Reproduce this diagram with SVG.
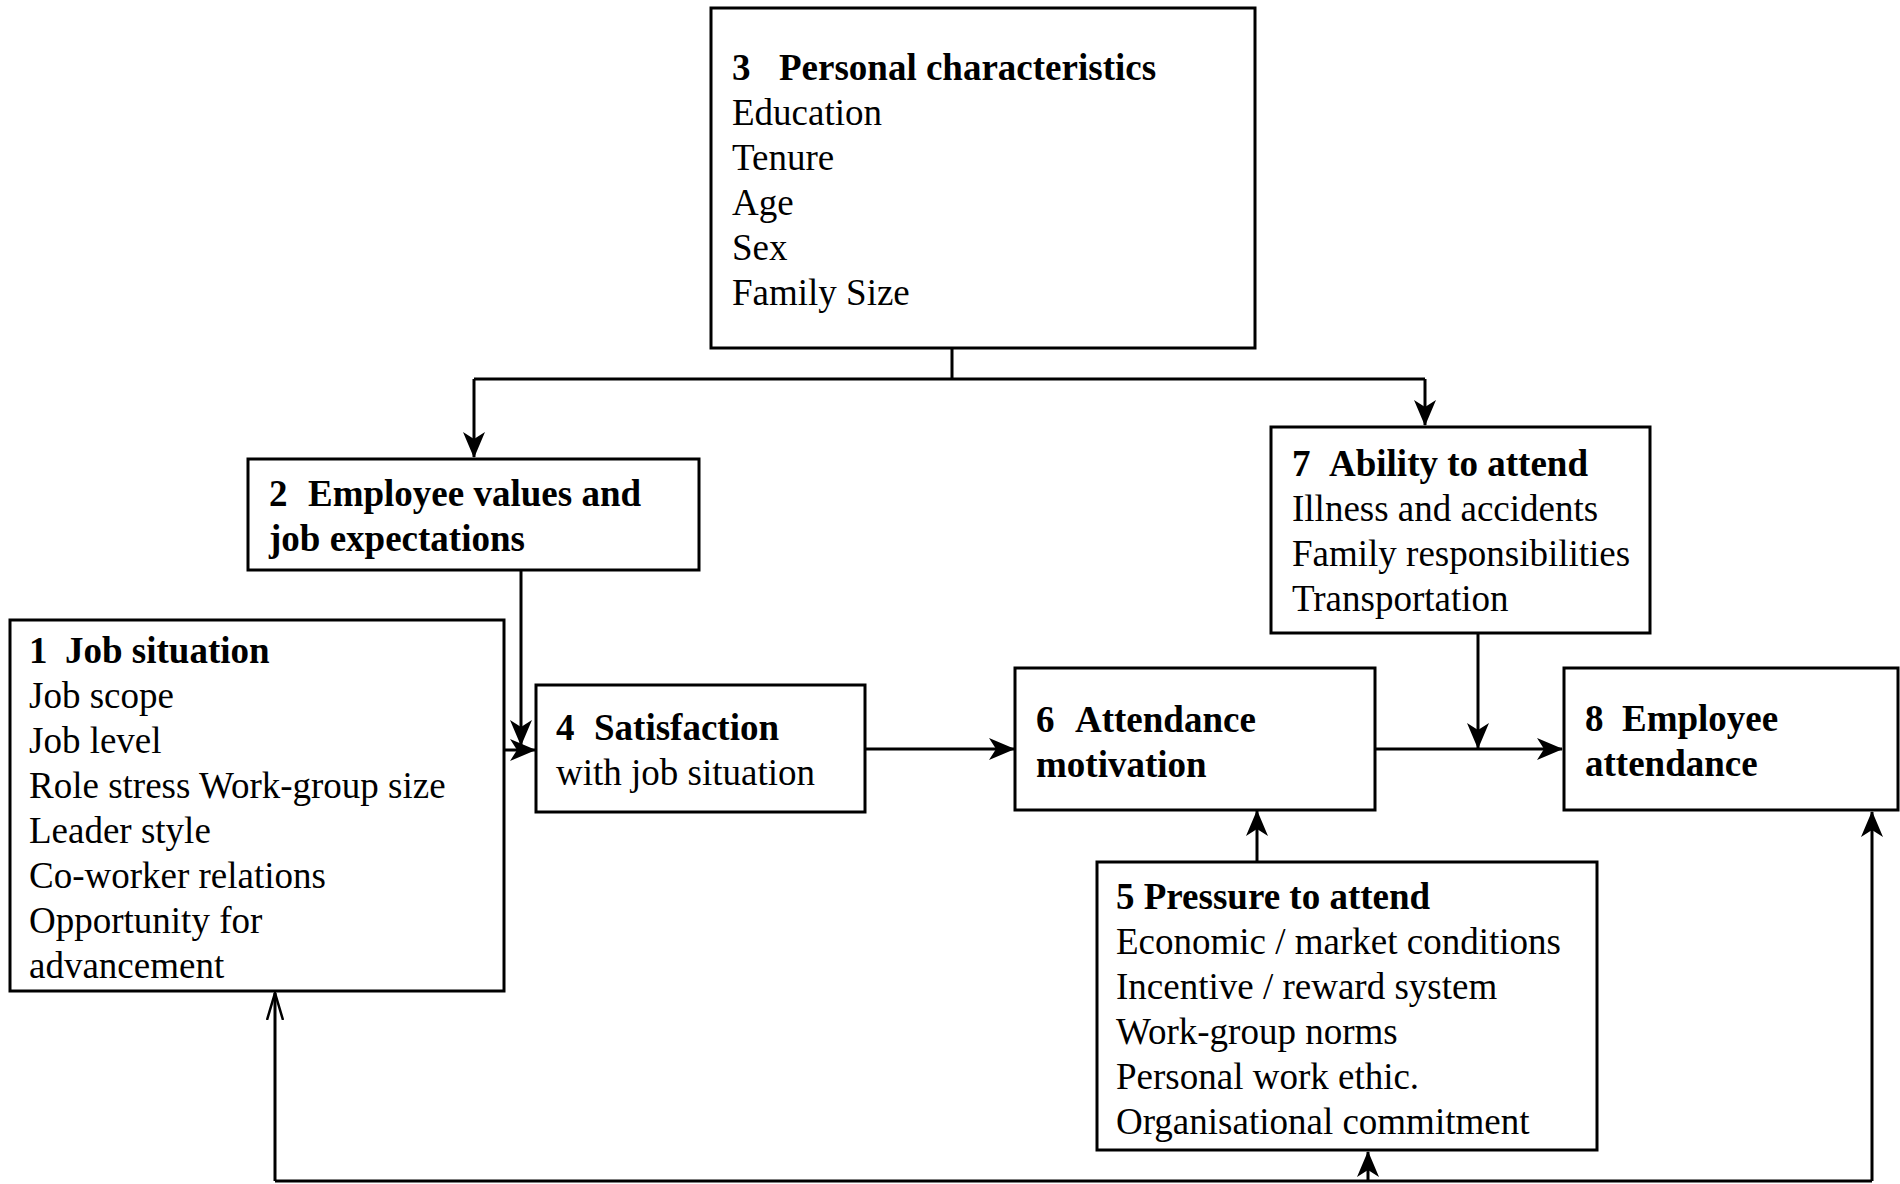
<svg xmlns="http://www.w3.org/2000/svg" width="1900" height="1184" viewBox="0 0 1900 1184">
<style>
.box{fill:#fff;stroke:#000;stroke-width:3}
.t{font-family:"Liberation Serif","Times New Roman",serif;font-size:37px;fill:#000}
.b{font-weight:bold}
.c{fill:none;stroke:#000;stroke-width:3}
</style>
<defs>
<marker id="ah" markerUnits="userSpaceOnUse" viewBox="0 0 26 24" refX="25" refY="12" markerWidth="26" markerHeight="24" orient="auto">
<path d="M0,1 L26,12 L0,23 L7,12 z" fill="#000"/>
</marker>
<marker id="oa" markerUnits="userSpaceOnUse" viewBox="0 0 28 18" refX="27" refY="9" markerWidth="28" markerHeight="18" orient="auto">
<path d="M0,1 L27,9 L0,17" fill="none" stroke="#000" stroke-width="2.5"/>
</marker>
</defs>
<rect width="1900" height="1184" fill="#fff"/>
<g id="connectors">
<path class="c" d="M952,348 V379 M474,379 H1425"/>
<path class="c" d="M474,379 V457" marker-end="url(#ah)"/>
<path class="c" d="M1425,379 V425" marker-end="url(#ah)"/>
<path class="c" d="M521,570 V745" marker-end="url(#ah)"/>
<path class="c" d="M504,750 H535" marker-end="url(#ah)"/>
<path class="c" d="M865,749 H1014" marker-end="url(#ah)"/>
<path class="c" d="M1375,749 H1562" marker-end="url(#ah)"/>
<path class="c" d="M1478,633 V748" marker-end="url(#ah)"/>
<path class="c" d="M1257,862 V811" marker-end="url(#ah)"/>
<path class="c" d="M275,1181 H1872"/>
<path class="c" d="M1872,1181 V812" marker-end="url(#ah)"/>
<path class="c" d="M1368,1181 V1152" marker-end="url(#ah)"/>
<path class="c" d="M275,1181 V993" marker-end="url(#oa)"/>
</g>
<g id="node3">
<rect class="box" x="711" y="8" width="544" height="340"/>
<text class="t b" y="80"><tspan x="732">3</tspan><tspan x="779">Personal characteristics</tspan></text>
<text class="t" x="732" y="125">Education</text>
<text class="t" x="732" y="170">Tenure</text>
<text class="t" x="732" y="215">Age</text>
<text class="t" x="732" y="260">Sex</text>
<text class="t" x="732" y="305">Family Size</text>
</g>
<g id="node2">
<rect class="box" x="248" y="459" width="451" height="111"/>
<text class="t b" y="506"><tspan x="269">2</tspan><tspan x="308">Employee values and</tspan></text>
<text class="t b" x="269" y="551">job expectations</text>
</g>
<g id="node1">
<rect class="box" x="10" y="620" width="494" height="371"/>
<text class="t b" y="663"><tspan x="29">1</tspan><tspan x="65">Job situation</tspan></text>
<text class="t" x="29" y="708">Job scope</text>
<text class="t" x="29" y="753">Job level</text>
<text class="t" x="29" y="798">Role stress Work-group size</text>
<text class="t" x="29" y="843">Leader style</text>
<text class="t" x="29" y="888">Co-worker relations</text>
<text class="t" x="29" y="933">Opportunity for</text>
<text class="t" x="29" y="978">advancement</text>
</g>
<g id="node4">
<rect class="box" x="536" y="685" width="329" height="127"/>
<text class="t b" y="740"><tspan x="556">4</tspan><tspan x="594">Satisfaction</tspan></text>
<text class="t" x="556" y="785">with job situation</text>
</g>
<g id="node6">
<rect class="box" x="1015" y="668" width="360" height="142"/>
<text class="t b" y="732"><tspan x="1036">6</tspan><tspan x="1075">Attendance</tspan></text>
<text class="t b" x="1036" y="777">motivation</text>
</g>
<g id="node7">
<rect class="box" x="1271" y="427" width="379" height="206"/>
<text class="t b" y="476"><tspan x="1292">7</tspan><tspan x="1329">Ability to attend</tspan></text>
<text class="t" x="1292" y="521">Illness and accidents</text>
<text class="t" x="1292" y="566">Family responsibilities</text>
<text class="t" x="1292" y="611">Transportation</text>
</g>
<g id="node8">
<rect class="box" x="1564" y="668" width="334" height="142"/>
<text class="t b" y="731"><tspan x="1585">8</tspan><tspan x="1622">Employee</tspan></text>
<text class="t b" x="1585" y="776">attendance</text>
</g>
<g id="node5">
<rect class="box" x="1097" y="862" width="500" height="288"/>
<text class="t b" x="1116" y="909">5 Pressure to attend</text>
<text class="t" x="1116" y="954">Economic / market conditions</text>
<text class="t" x="1116" y="999">Incentive / reward system</text>
<text class="t" x="1116" y="1044">Work-group norms</text>
<text class="t" x="1116" y="1089">Personal work ethic.</text>
<text class="t" x="1116" y="1134">Organisational commitment</text>
</g>
</svg>
